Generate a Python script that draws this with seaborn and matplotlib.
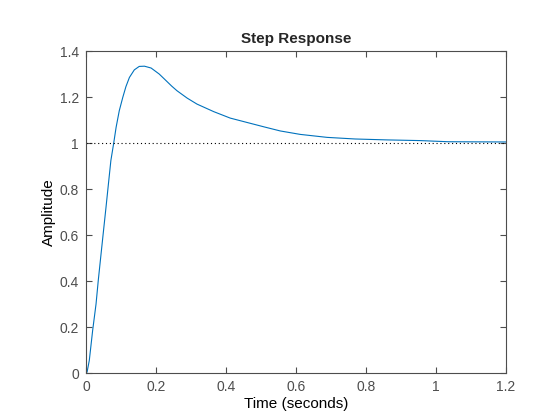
"""
Step Response (MATLAB style) redrawn with seaborn
"""
import matplotlib
matplotlib.use('Agg')
import matplotlib.pyplot as plt
import seaborn as sns
import pandas as pd

# values
time_s = [0.0, 0.003, 0.0094, 0.019, 0.0286, 0.035, 0.043, 0.050, 0.057, 0.064,
          0.071, 0.079, 0.086, 0.095, 0.105, 0.114, 0.124, 0.138, 0.152, 0.167,
          0.186, 0.209, 0.224, 0.245, 0.26, 0.289, 0.317, 0.365, 0.412, 0.46,
          0.508, 0.555, 0.612, 0.689, 0.769, 0.86, 0.955, 1.035, 1.2]
amplitude = [0.0, 0.004, 0.055, 0.186, 0.30, 0.403, 0.519, 0.62, 0.72, 0.823,
             0.925, 1.0, 1.07, 1.142, 1.2, 1.247, 1.287, 1.32, 1.335, 1.336,
             1.328, 1.302, 1.28, 1.249, 1.229, 1.197, 1.171, 1.138, 1.11, 1.091,
             1.072, 1.054, 1.039, 1.026, 1.019, 1.015, 1.012, 1.007, 1.006]
steady_value = 1.0
x_ticks = [0, 0.2, 0.4, 0.6, 0.8, 1, 1.2]
y_ticks = [0, 0.2, 0.4, 0.6, 0.8, 1, 1.2, 1.4]

df = pd.DataFrame({'t': time_s, 'y': amplitude})

sns.set_style('white')
plt.rcParams['font.family'] = ['Liberation Sans', 'DejaVu Sans']

fig = plt.figure(figsize=(5.6, 4.2), dpi=100)
ax = fig.add_axes([0.1536, 0.1119, 0.75, 0.7655])

sns.lineplot(data=df, x='t', y='y', ax=ax, color='#0072BD', linewidth=0.8)
ax.axhline(steady_value, color='black', linestyle=(0, (1, 2.5)), linewidth=0.8)

ax.set_xlim(0, 1.2)
ax.set_ylim(0, 1.4)
ax.set_xticks(x_ticks)
ax.set_xticklabels(['0', '0.2', '0.4', '0.6', '0.8', '1', '1.2'])
ax.set_yticks(y_ticks)
ax.set_yticklabels(['0', '0.2', '0.4', '0.6', '0.8', '1', '1.2', '1.4'])

axis_col = '#4d4d4d'
for sp in ax.spines.values():
    sp.set_color(axis_col)
    sp.set_linewidth(0.8)
ax.tick_params(direction='in', length=4, width=0.8, color=axis_col,
               labelcolor=axis_col, labelsize=10, top=True, right=True,
               bottom=True, left=True, pad=5)

ax.set_xlabel('Time (seconds)', fontsize=11, color='black', labelpad=2)
ax.set_ylabel('Amplitude', fontsize=11, color='black', labelpad=3)
ax.set_title('Step Response', fontsize=11, fontweight='bold', pad=6)

fig.savefig('out.png', dpi=100)
